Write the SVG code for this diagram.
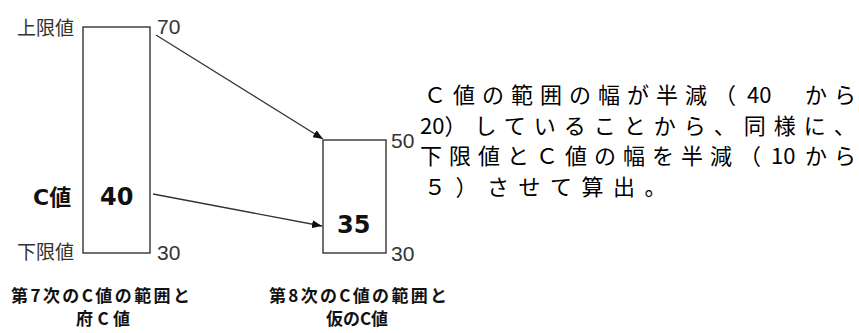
<svg xmlns="http://www.w3.org/2000/svg" width="859" height="333" viewBox="0 0 859 333">
<defs>
<marker id="ah" viewBox="0 0 10 8" refX="10" refY="4" markerWidth="10" markerHeight="8" markerUnits="userSpaceOnUse" orient="auto">
<path d="M0,0 L10,4 L0,8 Z" fill="#111"/>
</marker>
<style>
.box{fill:#fff;stroke:#333;stroke-width:1.4}
.lbl{font-family:"Noto Sans CJK JP",sans-serif;font-size:19px;fill:#333}
.num{font-family:"Liberation Sans","Noto Sans CJK JP",sans-serif;font-size:21px;fill:#333}
.big{font-family:"DejaVu Sans","Noto Sans CJK JP",sans-serif;font-size:24px;font-weight:bold;fill:#111}
.cap{font-family:"Noto Sans CJK JP",sans-serif;font-size:17px;font-weight:bold;fill:#111}
.para{font-family:"Noto Sans CJK JP",sans-serif;font-size:22px;fill:#000;letter-spacing:7px}
.dg{letter-spacing:0}
.conn{stroke:#333;stroke-width:1.3;fill:none;marker-end:url(#ah)}
</style>
</defs>
<rect width="859" height="333" fill="#fff"/>
<g id="node-7th">
<rect class="box" x="83" y="27" width="67" height="226"/>
<text class="lbl" x="17" y="35">上限値</text>
<text class="num" x="157" y="34">70</text>
<text class="big" x="33" y="205" style="font-size:22px">C値</text>
<text class="big" x="100" y="205">40</text>
<text class="lbl" x="17" y="259">下限値</text>
<text class="num" x="157" y="260">30</text>
<text class="cap" x="11" y="302" textLength="179" lengthAdjust="spacing">第7次のC値の範囲と</text>
<text class="cap" x="76" y="325" textLength="54" lengthAdjust="spacing">府C値</text>
</g>
<g id="node-8th">
<rect class="box" x="323" y="140" width="63" height="113"/>
<text class="num" x="391" y="148">50</text>
<text class="big" x="337" y="233">35</text>
<text class="num" x="391" y="261">30</text>
<text class="cap" x="269" y="302" textLength="178" lengthAdjust="spacing">第8次のC値の範囲と</text>
<text class="cap" x="326" y="325" textLength="62" lengthAdjust="spacing">仮のC値</text>
</g>
<g id="connectors">
<line class="conn" x1="156" y1="35" x2="323" y2="139"/>
<line class="conn" x1="153" y1="194" x2="322" y2="226"/>
</g>
<g id="note">
<text class="para" x="424" y="103">Ｃ値の範囲の幅が半減（<tspan class="dg" dx="4">40 </tspan><tspan x="805">か</tspan><tspan class="dg">ら</tspan></text>
<text class="para" x="420" y="134"><tspan class="dg">20</tspan><tspan style="letter-spacing:8px">）していることから、同様に</tspan><tspan class="dg">、</tspan></text>
<text class="para" x="420" y="164">下限値とＣ値の幅を半減（<tspan class="dg" dx="3">10 </tspan><tspan x="805">か</tspan><tspan class="dg">ら</tspan></text>
<text class="para" x="424" y="195" style="letter-spacing:9.5px">５）させて算出<tspan class="dg">。</tspan></text>
</g>
</svg>
